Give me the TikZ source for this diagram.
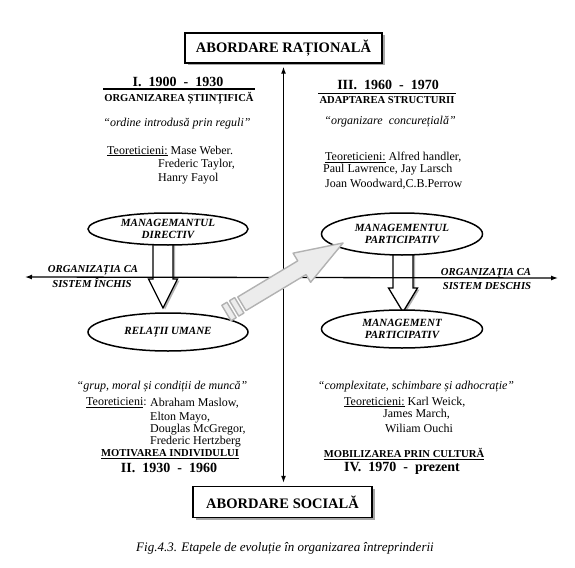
\documentclass[tikz,border=0pt]{standalone}
\usepackage{fontspec}
\setmainfont{Liberation Serif}
\usetikzlibrary{shapes.geometric,shadows,arrows.meta,backgrounds}

\begin{document}
\begin{tikzpicture}[x=1pt,y=-1pt]
\tikzset{abox/.style={draw,line width=1.4pt,fill=white,inner sep=0pt,font=\fontsize{14.5}{16}\selectfont\bfseries,drop shadow={shadow xshift=2.5pt,shadow yshift=-2.5pt,fill=gray!70,opacity=1}},
oval/.style={ellipse,draw,line width=1.5pt,fill=white,inner sep=0pt,align=center,font=\fontsize{11}{12.5}\selectfont\bfseries\itshape},
era/.style={font=\fontsize{14}{16}\selectfont\bfseries,inner sep=0pt},
head/.style={font=\fontsize{10.6}{12}\selectfont\bfseries,inner xsep=1pt,inner ysep=2.8pt},
motto/.style={font=\fontsize{12}{14}\selectfont\itshape,inner sep=0pt},
txt/.style={font=\fontsize{12}{14}\selectfont,anchor=west,inner sep=0pt},
side/.style={font=\fontsize{10.7}{12}\selectfont\bfseries\itshape,inner sep=0pt},
axis/.style={line width=1.3pt,{Latex[length=7pt,width=5pt]}-{Latex[length=7pt,width=5pt]}},
hollow/.style={draw,line width=1.3pt,fill=white,drop shadow={shadow xshift=2pt,shadow yshift=-1.5pt,fill=gray!60,opacity=1}},
tube/.style={draw=gray!60,line width=1.4pt,fill=gray!15,line join=round}}
\useasboundingbox (0,0) rectangle (575,567);

% boxes on the axis
\node[abox,minimum width=197pt,minimum height=30pt] (rat) at (283.5,48) {ABORDARE RAȚIONALĂ};
\node[abox,minimum width=179pt,minimum height=31pt] (soc) at (282.5,502) {ABORDARE\ SOCIALĂ};

% I
\node[era] (e1) at (178,82) {I.\ \ 1900\ \ -\ \ 1930};
\node[head] (h1) at (179,98) {ORGANIZAREA ȘTIINȚIFICĂ};
\node[motto] (m1) at (177,124) {``ordine introdusă prin reguli''};
\node[txt] (t1) at (107,151) {\underline{Teoreticieni:} Mase Weber.};
\node[txt] (t1b) at (158,165) {Frederic Taylor,};
\node[txt] (t1c) at (158,179) {Hanry Fayol};

% III
\node[era] (e3) at (388,85) {III.\ \ 1960\ \ -\ \ 1970};
\node[head] (h3) at (387,100) {ADAPTAREA STRUCTURII};
\node[motto] (m3) at (390,122) {``organizare\ \ concurețială''};
\node[txt] (t3) at (325,157) {\underline{Teoreticieni:} Alfred handler,};
\node[txt] (t3b) at (323,170) {Paul Lawrence, Jay Larsch};
\node[txt] (t3c) at (325,184) {Joan Woodward,C.B.Perrow};

% II
\node[motto] (m2) at (162,387) {``grup, moral și condiții de muncă''};
\node[txt] (t2) at (86,403) {\underline{Teoreticieni}:};
\node[txt] (t2a) at (150,403) {Abraham Maslow,};
\node[txt] (t2b) at (150,418) {Elton Mayo,};
\node[txt] (t2c) at (150,430) {Douglas McGregor,};
\node[txt] (t2d) at (150,442) {Frederic Hertzberg};
\node[head,inner ysep=1pt] (h2) at (170,454) {\underline{MOTIVAREA INDIVIDULUI}};
\node[era] (e2) at (169,468) {II.\ \ 1930\ \ -\ \ 1960};

% IV
\node[motto] (m4) at (416,387) {``complexitate, schimbare și adhocrație''};
\node[txt] (t4) at (344,402) {\underline{Teoreticieni:} Karl Weick,};
\node[txt] (t4b) at (383,414) {James March,};
\node[txt] (t4c) at (385,428) {Wiliam Ouchi};
\node[head,inner ysep=1pt] (h4) at (404,454) {\underline{MOBILIZAREA PRIN CULTURĂ}};
\node[era] (e4) at (402,468) {IV.\ \ 1970\ \ -\ \ prezent};

\draw[line width=1.6pt] (h1.north west) -- (h1.north east);
\draw[line width=1.6pt] (h3.north west) -- (h3.north east);

% ovals
\node[oval,minimum width=160pt,minimum height=32pt] (dir) at (168,229) {MANAGEMANTUL\\DIRECTIV};
\node[oval,minimum width=160pt,minimum height=38pt] (rel) at (168,332) {RELAȚII UMANE};
\node[oval,minimum width=161pt,minimum height=42pt] (part1) at (402,234) {MANAGEMENTUL\\PARTICIPATIV};
\node[oval,minimum width=161pt,minimum height=38pt] (part2) at (402,329) {MANAGEMENT\\PARTICIPATIV};

\node[side] (inch1) at (93,270) {ORGANIZAȚIA CA};
\node[side] (inch2) at (92,283) {SISTEM ÎNCHIS};
\node[side] (des1) at (486,273) {ORGANIZAȚIA CA};
\node[side] (des2) at (487,286) {SISTEM DESCHIS};

\node[font=\fontsize{13}{15}\selectfont\itshape] (cap) at (285,548) {Fig.4.3. Etapele de evoluție în organizarea întreprinderii};

% axes
\coordinate (west) at (25,277);
\coordinate (east) at (558,278);
\draw[axis] (west) -- (east);
\draw[axis] ([yshift=-3pt]rat.south) -- ([yshift=3pt]rat.south |- soc.north);

\begin{pgfonlayer}{background}
\draw[hollow] (153,240) -- (173,240) -- (173,279) -- (177.5,279) -- (163,308) -- (148.5,279) -- (153,279) -- cycle;
\draw[hollow] (393,250) -- (413,250) -- (413,288) -- (417.5,288) -- (403,312) -- (388.5,288) -- (393,288) -- cycle;
\end{pgfonlayer}

% grey arrow
\coordinate (gtip) at (343,243);
\begin{scope}[shift={(gtip)},rotate=31]
\draw[tube] (0,0) -- (-48,-17) -- (-48,-8) -- (-118,-8) -- (-118,8) -- (-48,8) -- (-48,17) -- cycle;
\draw[tube] (-121,-9) rectangle (-127,9);
\draw[tube] (-130,-9) rectangle (-136,9);
\end{scope}
\end{tikzpicture}
\end{document}
